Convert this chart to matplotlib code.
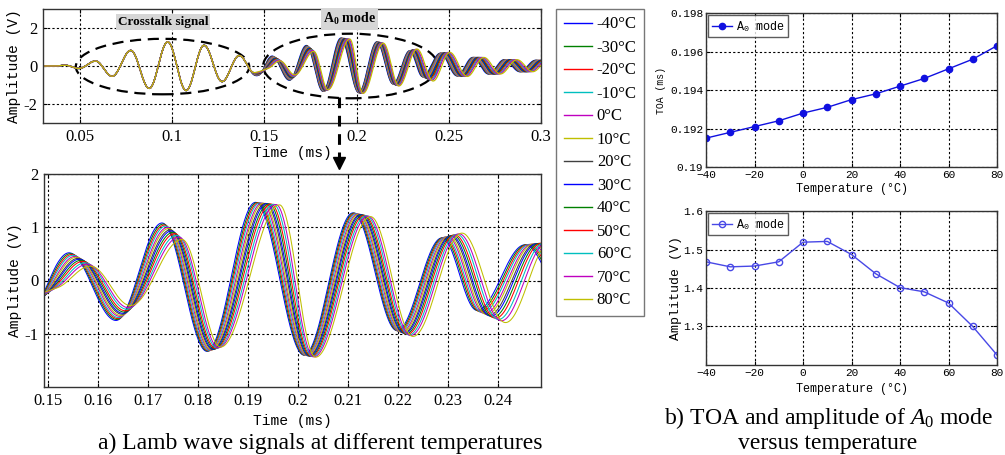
import numpy as np
import matplotlib
matplotlib.use("Agg")
import matplotlib.pyplot as plt
from matplotlib.patches import Ellipse
from matplotlib.lines import Line2D

plt.rcParams["mathtext.fontset"] = "custom"
plt.rcParams["mathtext.rm"] = "Liberation Serif"
plt.rcParams["mathtext.it"] = "Liberation Serif:italic"
plt.rcParams["mathtext.bf"] = "Liberation Serif:bold"

# ---------------- data ----------------
temps = [-40, -30, -20, -10, 0, 10, 20, 30, 40, 50, 60, 70, 80]
temp_labels = ["-40°C", "-30°C", "-20°C", "-10°C", "0°C", "10°C", "20°C",
               "30°C", "40°C", "50°C", "60°C", "70°C", "80°C"]
toa = [0.1915, 0.1918, 0.1921, 0.1924, 0.1928, 0.1931, 0.1935, 0.1938,
       0.1942, 0.1946, 0.1951, 0.1956, 0.1963]
amp_a0 = [1.468, 1.455, 1.457, 1.468, 1.519, 1.521, 1.487, 1.437, 1.401,
          1.390, 1.361, 1.300, 1.226]

# crosstalk signal extrema (same at every temperature)
xt_t = [0.030, 0.037, 0.042, 0.0495, 0.0585, 0.0675, 0.0776, 0.0876, 0.0976,
        0.1076, 0.1173, 0.1271, 0.1364, 0.1445, 0.152]
xt_v = [0.0, 0.0, 0.04, -0.13, 0.26, -0.54, 0.82, -1.18, 1.27, -1.29, 1.09,
        -0.82, 0.55, -0.35, 0.0]

# A0 mode extrema read at -40 °C and at 80 °C
a0_t_cold = [0.141, 0.1475, 0.1542, 0.1636, 0.1728, 0.1818, 0.1915, 0.2012,
             0.2110, 0.2198, 0.2288, 0.2358, 0.2454, 0.2545, 0.2630, 0.2715,
             0.2800, 0.2885, 0.2970, 0.3050, 0.3130]
a0_v_cold = [0.0, -0.22, 0.52, -0.75, 1.08, -1.33, 1.468, -1.40, 1.27, -0.94,
             0.80, -0.56, 0.67, -0.52, 0.45, -0.42, 0.33, -0.30, 0.30, -0.28,
             0.25]
a0_t_hot = [0.145, 0.1510, 0.1585, 0.1665, 0.1768, 0.1845, 0.1963, 0.2035,
            0.2145, 0.2230, 0.2328, 0.2415, 0.2505, 0.2600, 0.2690, 0.2780,
            0.2870, 0.2955, 0.3040, 0.3130, 0.3210]
a0_v_hot = [0.0, -0.15, 0.27, -0.47, 0.77, -1.25, 1.42, -1.44, 1.20, -1.05,
            0.89, -0.79, 0.72, -0.55, 0.45, -0.42, 0.33, -0.30, 0.30, -0.28,
            0.25]

line_colors = [(0, 0, 1), (0, 0.5, 0), (1, 0, 0), (0, 0.75, 0.75),
               (0.75, 0, 0.75), (0.75, 0.75, 0), (0.25, 0.25, 0.25)]

temp_ticks = [-40, -20, 0, 20, 40, 60, 80]

SERIF = "Liberation Serif"
MONO = "Liberation Mono"


def wave(t, te, ve):
    te = np.asarray(te)
    ve = np.asarray(ve)
    out = np.zeros_like(t)
    idx = np.searchsorted(te, t) - 1
    ok = (idx >= 0) & (idx < len(te) - 1)
    i = idx[ok]
    s = (t[ok] - te[i]) / (te[i + 1] - te[i])
    out[ok] = ve[i] + (ve[i + 1] - ve[i]) * (1 - np.cos(np.pi * s)) / 2
    return out


def signal(t, k):
    f = (toa[k] - toa[0]) / (toa[-1] - toa[0])
    te = np.array(a0_t_cold) + f * (np.array(a0_t_hot) - np.array(a0_t_cold))
    ve = np.array(a0_v_cold) + f * (np.array(a0_v_hot) - np.array(a0_v_cold))
    return wave(t, xt_t, xt_v) + wave(t, te, ve)


W, H = 1005, 455
fig = plt.figure(figsize=(W / 100, H / 100), dpi=100)


def rect(l, t, r, b):
    return [l / W, 1 - b / H, (r - l) / W, (b - t) / H]


def style_axes(ax, tickfont, ticksize):
    ax.grid(True, linestyle=(0, (2, 2)), color="black", linewidth=0.8)
    ax.tick_params(direction="in", length=3, width=0.8, top=True, right=True,
                   labelsize=ticksize, pad=4)
    for lab in ax.get_xticklabels() + ax.get_yticklabels():
        lab.set_fontfamily(tickfont)
    for sp in ax.spines.values():
        sp.set_color("#333333")
        sp.set_linewidth(1.0)


# ---------- top-left: full signals ----------
ax1 = fig.add_axes(rect(43, 9, 541, 123))
t1 = np.linspace(0.03, 0.3, 3000)
for k in range(len(temps)):
    ax1.plot(t1, signal(t1, k), color=line_colors[k % 7], lw=0.9)
ax1.set_xlim(0.03, 0.3)
ax1.set_ylim(-3, 3)
ax1.set_xticks([0.05, 0.1, 0.15, 0.2, 0.25, 0.3])
ax1.set_xticklabels(["0.05", "0.1", "0.15", "0.2", "0.25", "0.3"])
ax1.set_yticks([-2, 0, 2])
ax1.set_yticklabels(["-2", "0", "2"])
style_axes(ax1, SERIF, 12)
ax1.set_xlabel("Time (ms)", fontfamily=MONO, fontsize=10.5, labelpad=1)
ax1.set_ylabel("Amplitude (V)", fontfamily=MONO, fontsize=10.5, labelpad=2)
ax1.add_patch(Ellipse((0.0948, -0.03), 0.094, 2.92, fill=False, ls=(0, (5, 3)),
                      lw=1.6, color="black"))
ax1.add_patch(Ellipse((0.1967, 0.0), 0.0947, 3.4, fill=False, ls=(0, (5, 3)),
                      lw=1.6, color="black"))
ax1.text(0.095, 2.3, "Crosstalk signal", fontfamily=SERIF, fontweight="bold",
         fontsize=9.5, ha="center", va="center",
         bbox=dict(facecolor="#d6d6d6", edgecolor="none", pad=1.5))
ax1.text(0.196, 2.45, r"$\mathbf{A}_\mathbf{0}$ mode", fontfamily=SERIF,
         fontweight="bold", fontsize=10, ha="center", va="center",
         bbox=dict(facecolor="#d6d6d6", edgecolor="none", pad=1.5))

# ---------- bottom-left: zoomed signals ----------
ax2 = fig.add_axes(rect(44, 174, 541, 387))
t2 = np.linspace(0.149, 0.249, 2500)
for k in range(len(temps)):
    ax2.plot(t2, signal(t2, k), color=line_colors[k % 7], lw=0.75)
ax2.set_xlim(0.1492, 0.2486)
ax2.set_ylim(-2, 2)
ax2.set_xticks([0.15, 0.16, 0.17, 0.18, 0.19, 0.2, 0.21, 0.22, 0.23, 0.24])
ax2.set_xticklabels(["0.15", "0.16", "0.17", "0.18", "0.19", "0.2", "0.21",
                     "0.22", "0.23", "0.24"])
ax2.set_yticks([-1, 0, 1, 2])
ax2.set_yticklabels(["-1", "0", "1", "2"])
style_axes(ax2, SERIF, 12)
ax2.set_xlabel("Time (ms)", fontfamily=MONO, fontsize=10.5, labelpad=4)
ax2.set_ylabel("Amplitude (V)", fontfamily=MONO, fontsize=10.5, labelpad=2)

# legend for signals
handles = [Line2D([0], [0], color=line_colors[k % 7], lw=1.0)
           for k in range(len(temps))]
leg = fig.legend(handles, temp_labels, loc="upper left",
                 bbox_to_anchor=(556 / W, 1 - 9 / H), borderaxespad=0.0,
                 frameon=True, fancybox=False, edgecolor="#555555",
                 handlelength=1.7, handletextpad=0.3, labelspacing=0.42,
                 borderpad=0.45, prop=dict(family=SERIF, size=12))
leg.get_frame().set_linewidth(1.0)

# dashed arrow from the A0 ellipse to the zoomed chart
fig.add_artist(Line2D([339 / W, 339 / W], [1 - 97 / H, 1 - 158 / H],
                      transform=fig.transFigure, color="black", lw=2.2,
                      ls=(0, (3.5, 2.5))))
fig.add_artist(Line2D([339 / W], [1 - 163 / H], transform=fig.transFigure,
                      marker="v", markersize=8, color="black", ls="none"))

# ---------- right-top: TOA ----------
ax3 = fig.add_axes(rect(706, 13, 997, 167))
ax3.plot(temps, toa, color="#1010e0", lw=1.0, marker="o", markersize=4.5,
         markerfacecolor="#1010e0", markeredgecolor="#1010e0",
         label=r"A$_\mathregular{0}$ mode")
ax3.set_xlim(-40, 80)
ax3.set_ylim(0.19, 0.198)
ax3.set_xticks(temp_ticks)
ax3.set_yticks([0.19, 0.192, 0.194, 0.196, 0.198])
ax3.set_yticklabels(["0.19", "0.192", "0.194", "0.196", "0.198"])
style_axes(ax3, MONO, 8)
ax3.tick_params(pad=2)
ax3.set_xlabel("Temperature (°C)", fontfamily=MONO, fontsize=8.5, labelpad=2)
ax3.set_ylabel("TOA (ms)", fontfamily=MONO, fontsize=7, labelpad=3)
l3 = ax3.legend(loc="upper left", frameon=True, fancybox=False,
                edgecolor="#333333", handlelength=1.7, handletextpad=0.3,
                borderpad=0.3, borderaxespad=0.2,
                prop=dict(family=MONO, size=8.5))
l3.get_frame().set_linewidth(1.0)

# ---------- right-bottom: amplitude ----------
ax4 = fig.add_axes(rect(706, 211, 997, 365))
ax4.plot(temps, amp_a0, color="#4848e6", lw=1.0, marker="o", markersize=4.5,
         markerfacecolor="none", markeredgecolor="#4848e6",
         label=r"A$_\mathregular{0}$ mode")
ax4.set_xlim(-40, 80)
ax4.set_ylim(1.2, 1.6)
ax4.set_xticks(temp_ticks)
ax4.set_yticks([1.3, 1.4, 1.5, 1.6])
ax4.set_yticklabels(["1.3", "1.4", "1.5", "1.6"])
style_axes(ax4, MONO, 8)
ax4.tick_params(pad=2)
ax4.set_xlabel("Temperature (°C)", fontfamily=MONO, fontsize=8.5, labelpad=4)
ax4.set_ylabel("Amplitude (V)", fontfamily=MONO, fontsize=9.5, labelpad=1)
l4 = ax4.legend(loc="upper left", frameon=True, fancybox=False,
                edgecolor="#333333", handlelength=1.7, handletextpad=0.3,
                borderpad=0.3, borderaxespad=0.2,
                prop=dict(family=MONO, size=8.5))
l4.get_frame().set_linewidth(1.0)

# ---------- captions ----------
fig.text(320 / W, 1 - 443 / H, "a) Lamb wave signals at different temperatures",
         fontfamily=SERIF, fontsize=17, ha="center", va="center")
fig.text(828 / W, 1 - 418 / H, r"b) TOA and amplitude of $A_0$ mode",
         fontfamily=SERIF, fontsize=17, ha="center", va="center")
fig.text(828 / W, 1 - 443 / H, "versus temperature",
         fontfamily=SERIF, fontsize=17, ha="center", va="center")

fig.savefig("out.png", dpi=100)
